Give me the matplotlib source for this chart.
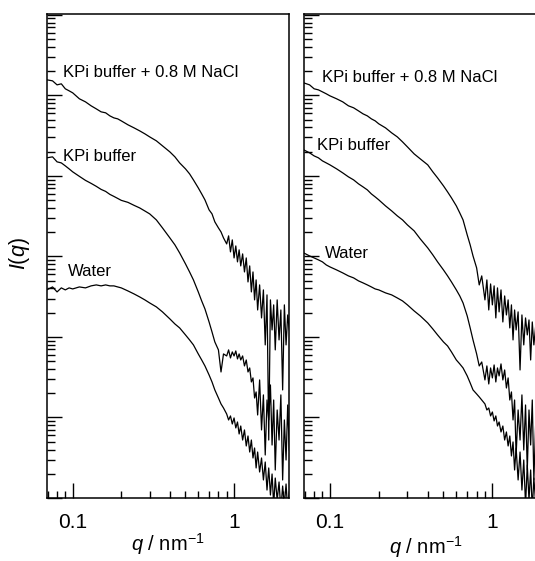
import numpy as np
import matplotlib
matplotlib.use("Agg")
import matplotlib.pyplot as plt
from matplotlib.ticker import LogLocator, FixedLocator, FixedFormatter, NullFormatter

plt.rcParams['font.family'] = ['Liberation Sans', 'DejaVu Sans']
plt.rcParams['mathtext.fontset'] = 'custom'
plt.rcParams['mathtext.rm'] = 'Liberation Sans'
plt.rcParams['mathtext.it'] = 'Liberation Sans:italic'

# q grid (nm^-1), shared by all curves
q_head = [0.069, 0.075, 0.080, 0.085, 0.090, 0.095, 0.10,
          0.11, 0.12, 0.13, 0.14, 0.15, 0.16, 0.17, 0.18, 0.19, 0.20,
          0.22, 0.24, 0.26, 0.28, 0.30,
          0.33, 0.36, 0.40, 0.43, 0.46, 0.50, 0.53, 0.56, 0.60, 0.63, 0.66,
          0.70, 0.73, 0.76, 0.80, 0.83, 0.86]
q_tail = [0.90, 0.925, 0.95, 0.975, 1.00, 1.025, 1.05, 1.075, 1.10,
          1.13, 1.16, 1.19, 1.22, 1.25, 1.28, 1.31, 1.34, 1.37, 1.40,
          1.44, 1.48, 1.52, 1.56, 1.60, 1.64, 1.68, 1.72, 1.76, 1.80,
          1.85, 1.90, 1.95, 2.00, 2.05, 2.10, 2.15, 2.20]

# log10 I(q), left panel
left_nacl = [5.193, 5.180, 5.130, 5.143, 5.081, 5.056, 5.031,
             4.957, 4.919, 4.870, 4.832, 4.795, 4.783, 4.745, 4.720, 4.708, 4.683,
             4.634, 4.596, 4.559, 4.522, 4.484,
             4.435, 4.373, 4.298, 4.236, 4.161, 4.087, 4.025, 3.950, 3.851, 3.776, 3.702,
             3.578, 3.528, 3.429, 3.354, 3.304, 3.230,
             3.155, 3.255, 3.056, 3.205, 2.981, 3.130, 2.932, 3.081, 2.882,
             3.031, 2.807, 2.981, 2.683, 2.882, 2.559, 2.807, 2.460, 2.708, 2.335,
             2.646, 2.236, 2.584, 1.901, 2.522, 0.720, 2.460, 2.087, 2.398, 1.839,
             2.460, 1.963, 2.335, 1.342, 2.398, 1.901, 2.273, 2.087]
left_kpi = [4.224, 4.236, 4.174, 4.161, 4.124, 4.087, 4.050,
            3.994, 3.944, 3.907, 3.870, 3.832, 3.807, 3.770, 3.745, 3.720, 3.696,
            3.671, 3.634, 3.602, 3.564, 3.528,
            3.453, 3.354, 3.230, 3.143, 3.043, 2.907, 2.807, 2.708, 2.559, 2.447, 2.348,
            2.186, 2.062, 1.938, 1.839, 1.565, 1.789,
            1.764, 1.839, 1.739, 1.814, 1.764, 1.826, 1.727, 1.789, 1.714,
            1.764, 1.640, 1.714, 1.565, 1.615, 1.441, 1.491, 1.242, 1.317, 1.031,
            1.466, 0.845, 1.280, 0.534, 1.217, 0.969, 1.404, 0.658, 1.217, 0.348,
            1.093, 0.720, 1.280, 0.224, 0.969, 0.472, 1.155, 0.596]
left_water = [2.584, 2.621, 2.559, 2.609, 2.584, 2.609, 2.596,
              2.621, 2.609, 2.634, 2.646, 2.634, 2.646, 2.634, 2.634, 2.621, 2.609,
              2.571, 2.534, 2.497, 2.460, 2.422,
              2.373, 2.311, 2.224, 2.161, 2.112, 2.025, 1.963, 1.901, 1.789, 1.714, 1.640,
              1.528, 1.441, 1.342, 1.242, 1.168, 1.118,
              1.043, 0.969, 1.019, 0.919, 0.994, 0.870, 0.944, 0.795, 0.894,
              0.720, 0.845, 0.646, 0.770, 0.571, 0.720, 0.497, 0.621, 0.373, 0.571,
              0.323, 0.497, 0.224, 0.447, 0.099, 0.373, 0.037, 0.298, -0.087, 0.248,
              -0.025, 0.199, -0.149, 0.149, -0.087, 0.174, -0.149, 0.075]

# log10 I(q), right panel
right_nacl = [5.155, 5.130, 5.081, 5.068, 5.043, 5.019, 4.994,
              4.957, 4.919, 4.870, 4.845, 4.807, 4.770, 4.745, 4.708, 4.683, 4.646,
              4.596, 4.534, 4.484, 4.422, 4.360,
              4.273, 4.211, 4.137, 4.050, 3.975, 3.876, 3.801, 3.727, 3.627, 3.540, 3.453,
              3.267, 3.143, 3.006, 2.857, 2.646, 2.758,
              2.460, 2.708, 2.335, 2.658, 2.398, 2.634, 2.236, 2.609, 2.311,
              2.584, 2.186, 2.509, 2.273, 2.460, 2.112, 2.398, 1.963, 2.335, 2.087,
              2.311, 1.590, 2.273, 1.901, 2.236, 2.025, 2.211, 1.714, 2.186, 1.901,
              2.149, 1.839, 2.087, 1.714, 2.025, 1.776, 1.963, 1.714]
right_kpi = [4.323, 4.286, 4.248, 4.224, 4.186, 4.161, 4.137,
             4.087, 4.037, 3.988, 3.950, 3.901, 3.863, 3.826, 3.776, 3.739, 3.702,
             3.627, 3.565, 3.503, 3.453, 3.391,
             3.317, 3.217, 3.106, 3.019, 2.932, 2.832, 2.758, 2.683, 2.584, 2.509, 2.422,
             2.261, 2.112, 1.963, 1.789, 1.640, 1.689,
             1.466, 1.640, 1.416, 1.615, 1.491, 1.652, 1.441, 1.615, 1.516,
             1.665, 1.466, 1.590, 1.366, 1.491, 1.217, 1.317, 0.969, 1.217, 0.534,
             1.093, 0.720, 1.280, 0.596, 1.155, 0.348, 1.093, 0.658, 1.217, 0.224,
             0.969, 0.472, 0.845, 0.099, 0.907, 0.348, 0.720, 0.224]
right_water = [3.043, 3.006, 2.981, 2.957, 2.932, 2.894, 2.870,
               2.832, 2.795, 2.758, 2.733, 2.696, 2.671, 2.646, 2.621, 2.596, 2.584,
               2.547, 2.522, 2.484, 2.447, 2.398,
               2.323, 2.261, 2.174, 2.099, 2.025, 1.938, 1.888, 1.814, 1.714, 1.665, 1.615,
               1.516, 1.429, 1.342, 1.292, 1.255, 1.217,
               1.168, 1.093, 1.118, 1.019, 1.068, 0.957, 1.019, 0.894, 0.944,
               0.820, 0.894, 0.720, 0.820, 0.646, 0.770, 0.522, 0.696, 0.348, 0.621,
               0.224, 0.571, 0.099, 0.472, -0.087, 0.410, -0.025, 0.348, -0.149, 0.248,
               -0.087, 0.199, -0.149, 0.149, -0.174, 0.124, -0.149, 0.075]

labels = ["KPi buffer + 0.8 M NaCl", "KPi buffer", "Water"]
# label anchor (q, log10 I) for each panel
left_label_pos = [(0.0875, 5.23), (0.0875, 4.18), (0.094, 2.76)]
right_label_pos = [(0.0889, 5.17), (0.0828, 4.32), (0.0931, 2.98)]

q = np.array(q_head + q_tail)

fig = plt.figure(figsize=(5.35, 5.61), dpi=100)
ax1 = fig.add_axes([47 / 535, 63 / 561, 242 / 535, 484 / 561])
ax2 = fig.add_axes([304 / 535, 63 / 561, 243.7 / 535, 484 / 561])


def setup_axis(ax):
    ax.set_xscale('log')
    ax.set_yscale('log')
    ax.set_xlim(0.0693, 2.19)
    ax.set_ylim(1, 10 ** 6.01)
    ax.xaxis.set_major_locator(FixedLocator([0.1, 1]))
    ax.xaxis.set_major_formatter(FixedFormatter(["0.1", "1"]))
    ax.xaxis.set_minor_locator(LogLocator(base=10, subs=np.arange(2, 10), numticks=100))
    ax.xaxis.set_minor_formatter(NullFormatter())
    ax.yaxis.set_major_locator(LogLocator(base=10, numticks=100))
    ax.yaxis.set_minor_locator(LogLocator(base=10, subs=np.arange(2, 10), numticks=100))
    ax.yaxis.set_minor_formatter(NullFormatter())
    ax.tick_params(which='both', direction='in', top=False, right=False,
                   labelleft=False, width=1.0, color='black')
    ax.tick_params(which='major', length=10.8, labelsize=15, pad=10.5)
    ax.tick_params(which='minor', length=5.4)
    for s in ax.spines.values():
        s.set_linewidth(1.1)


for ax, curves, pos in [(ax1, [left_nacl, left_kpi, left_water], left_label_pos),
                        (ax2, [right_nacl, right_kpi, right_water], right_label_pos)]:
    setup_axis(ax)
    for vals in curves:
        ax.plot(q, 10 ** np.array(vals), color='black', lw=0.9)
    for lab, (xq, yl) in zip(labels, pos):
        ax.text(xq, 10 ** yl, lab, fontsize=12, ha='left', va='baseline')
    ax.set_xlabel(r'$q$ / nm$^{-1}$', fontsize=14.5, labelpad=0)

ax2.xaxis.labelpad = 2
ax1.set_ylabel(r'$I$($q$)', fontsize=15.5)
ax1.yaxis.set_label_coords(-0.062, 0.505)

fig.savefig("out.png", dpi=100)
